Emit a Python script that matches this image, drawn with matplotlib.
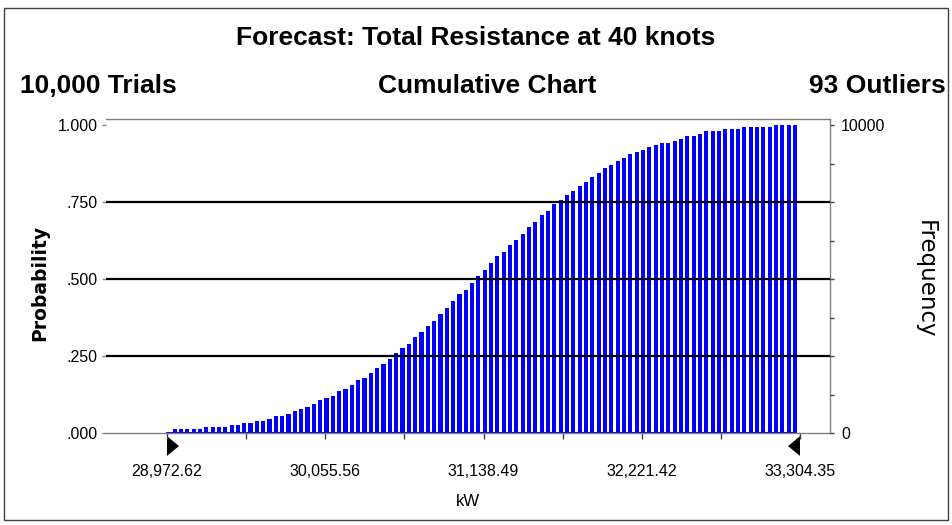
import numpy as np
import matplotlib
matplotlib.use("Agg")
import matplotlib.pyplot as plt
from matplotlib.patches import Polygon, Rectangle

# range of the forecast (kW) and the cumulative probability of each of the 100 bins
x_lo = 28972.62
x_hi = 33304.35
x_ticklabels = ["28,972.62", "30,055.56", "31,138.49", "32,221.42", "33,304.35"]
cum_prob = [
    0.003, 0.012, 0.012, 0.012, 0.012, 0.012, 0.018, 0.018, 0.018, 0.018,
    0.025, 0.025, 0.032, 0.032, 0.040, 0.040, 0.046, 0.055, 0.055, 0.063,
    0.070, 0.078, 0.084, 0.093, 0.106, 0.114, 0.121, 0.135, 0.143, 0.157,
    0.172, 0.180, 0.195, 0.210, 0.224, 0.239, 0.260, 0.275, 0.289, 0.312,
    0.327, 0.348, 0.364, 0.385, 0.406, 0.429, 0.451, 0.465, 0.486, 0.510,
    0.529, 0.553, 0.575, 0.589, 0.611, 0.627, 0.647, 0.670, 0.684, 0.707,
    0.722, 0.744, 0.757, 0.772, 0.787, 0.801, 0.816, 0.831, 0.845, 0.859,
    0.869, 0.882, 0.892, 0.905, 0.912, 0.920, 0.928, 0.934, 0.942, 0.942,
    0.949, 0.956, 0.963, 0.963, 0.971, 0.980, 0.980, 0.980, 0.986, 0.986,
    0.986, 0.993, 0.993, 0.993, 0.993, 0.993, 0.999, 0.999, 0.999, 0.999,
]
prob_ticks = [0.0, 0.25, 0.5, 0.75, 1.0]
prob_ticklabels = [".000", ".250", ".500", ".750", "1.000"]
trials = 10000
title = "Forecast: Total Resistance at 40 knots"
left_note = "10,000 Trials"
mid_note = "Cumulative Chart"
right_note = "93 Outliers"

plt.rcParams["font.family"] = ["Liberation Sans", "DejaVu Sans"]

W, H = 952, 525
fig = plt.figure(figsize=(W / 100, H / 100), dpi=100)

# outer frame
fig.patches.append(Rectangle((4 / W, 1 - 520 / H), 944 / W, 512 / H, transform=fig.transFigure,
                             fill=False, edgecolor="#404040", linewidth=1.0))

ax = fig.add_axes([106 / W, 1 - 433 / H, (830 - 106) / W, (433 - 119) / H])

n_bins = len(cum_prob)
bin_w = (x_hi - x_lo) / n_bins
xs = x_lo + (np.arange(n_bins) + 0.2) * bin_w
ax.bar(xs, cum_prob, width=0.65 * bin_w, color="#0000ff", edgecolor="none", zorder=2)
ax.plot([xs[0], xs[-1]], [0, 0], color="#0000cc", linewidth=1.5, zorder=2.5,
        solid_capstyle="butt")

for y in prob_ticks[1:-1]:
    ax.axhline(y, color="black", linewidth=1.6, zorder=3)

px_per_unit = 633 / (x_hi - x_lo)
ax.set_xlim(x_lo - 61 / px_per_unit, x_hi + 30 / px_per_unit)
ax.set_ylim(0, 1.0195)

ax.set_xticks(np.linspace(x_lo, x_hi, 5))
ax.set_xticklabels(x_ticklabels, fontsize=11.5)
ax.set_xticks(np.linspace(x_lo, x_hi, 9), minor=True)
ax.tick_params(axis="x", which="both", direction="out", length=4, width=1,
               color="#404040", pad=18)
ax.set_xlabel("kW", fontsize=12, labelpad=11)

ax.set_yticks(prob_ticks)
ax.set_yticklabels(prob_ticklabels, fontsize=11.5)
ax.tick_params(axis="y", direction="out", length=3, width=1, color="#808080", pad=3)

for side in ["top", "right", "bottom", "left"]:
    ax.spines[side].set_color("#808080")
    ax.spines[side].set_linewidth(1.0)
ax.spines["left"].set_visible(False)

ax2 = ax.twinx()
ax2.set_ylim(0, 1.0195 * trials)
ax2.set_yticks(np.linspace(0, trials, 9))
ax2.set_yticklabels(["0"] + [""] * 7 + ["10000"], fontsize=11.5)
ax2.tick_params(axis="y", direction="out", length=3, width=1, color="#404040", pad=5)
for side in ["top", "right", "bottom", "left"]:
    ax2.spines[side].set_visible(False)

# range grabbers under the axis
tri_w = 12 / px_per_unit
trans = ax.get_xaxis_transform()
ax.add_patch(Polygon([(x_lo, -0.010), (x_lo, -0.073), (x_lo + tri_w, -0.0415)], closed=True,
                     facecolor="black", edgecolor="none", transform=trans, clip_on=False))
ax.add_patch(Polygon([(x_hi, -0.010), (x_hi, -0.073), (x_hi - tri_w, -0.0415)], closed=True,
                     facecolor="black", edgecolor="none", transform=trans, clip_on=False))

fig.text(476 / W, 1 - 38 / H, title, ha="center", va="center", fontsize=19, fontweight="bold")
fig.text(20 / W, 1 - 86 / H, left_note, ha="left", va="center", fontsize=19, fontweight="bold")
fig.text(487 / W, 1 - 86 / H, mid_note, ha="center", va="center", fontsize=19, fontweight="bold")
fig.text(946 / W, 1 - 86 / H, right_note, ha="right", va="center", fontsize=19, fontweight="bold")

fig.text(40 / W, 1 - 283 / H, "Probability", rotation=90, ha="center", va="center",
         fontsize=13.5, fontweight="bold", family="DejaVu Sans")
fig.text(925 / W, 1 - 279 / H, "Frequency", rotation=270, ha="center", va="center",
         fontsize=16.5, family="DejaVu Sans")

fig.savefig("out.png", dpi=100)
